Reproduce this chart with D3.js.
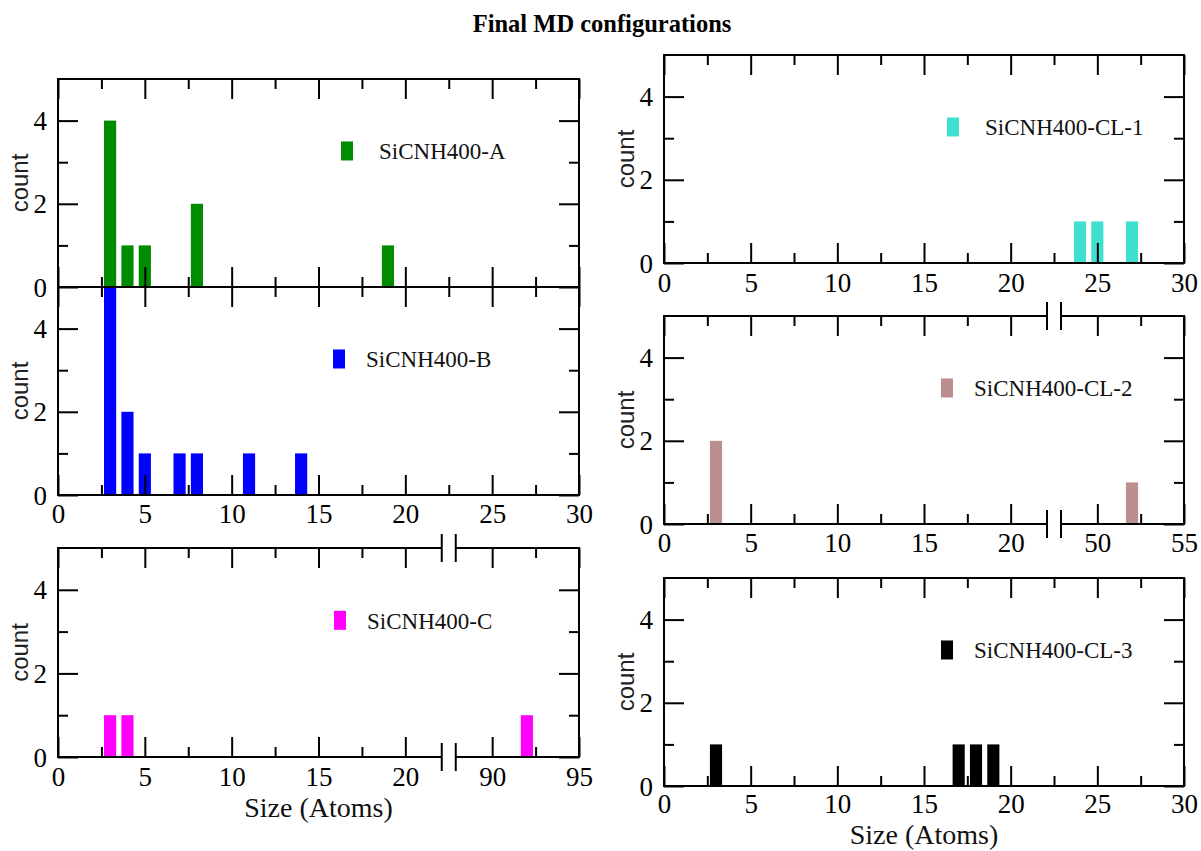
<!DOCTYPE html>
<html>
<head>
<meta charset="utf-8">
<script src="https://cdn.jsdelivr.net/npm/d3@7"></script>
<style>
  html, body { margin: 0; padding: 0; background: #fff; }
  svg { display: block; }
</style>
</head>
<body>
<svg id="chart" width="1201" height="851"></svg>
<script>
// ---------------- DATA ----------------
const titleText = "Final MD configurations";
const xAxisTitle = "Size (Atoms)";
const yAxisTitle = "count";

const sizesA = [3, 4, 5, 8, 19];
const countsA = [4, 1, 1, 2, 1];
const sizesB = [3, 4, 5, 7, 8, 11, 14];
const countsB = [5, 2, 1, 1, 1, 1, 1];
const sizesC = [3, 4, 92];
const countsC = [1, 1, 1];
const sizesCL1 = [24, 25, 27];
const countsCL1 = [1, 1, 1];
const sizesCL2 = [3, 52];
const countsCL2 = [2, 1];
const sizesCL3 = [3, 17, 18, 19];
const countsCL3 = [1, 1, 1, 1];

const seriesNames = ["SiCNH400-A", "SiCNH400-B", "SiCNH400-C", "SiCNH400-CL-1", "SiCNH400-CL-2", "SiCNH400-CL-3"];
const seriesColors = ["#008b00", "#0000ff", "#ff00ff", "#40e0d0", "#bc8f8f", "#000000"];

const xTicksPlain = [0, 5, 10, 15, 20, 25, 30];
const xMinorPlain = [2.5, 7.5, 12.5, 17.5, 22.5, 27.5];
const xTicksC = [0, 5, 10, 15, 20, 90, 95];
const xMinorC = [2.5, 7.5, 12.5, 17.5, 92.5];
const xTicksCL2 = [0, 5, 10, 15, 20, 50, 55];
const xMinorCL2 = [2.5, 7.5, 12.5, 17.5, 52.5];
const yTicks = [0, 2, 4];
const yMinor = [1, 3];
const yDomain = [0, 5];

// ---------------- LAYOUT ----------------
const svg = d3.select("#chart");
const SERIF = "'Liberation Serif', 'Times New Roman', Times, serif";
const SANS = "'Liberation Sans', Arial, Helvetica, sans-serif";
const BAR_HALF = 0.35;
const BREAK_GAP = 7;

const panels = [
  { name: 0, sizes: sizesA, counts: countsA, x0: 58, x1: 579, top: 79, bottom: 287,
    xdom: [0, 30], ticks: xTicksPlain, minor: xMinorPlain, xBreak: null,
    bottomLabels: false, labelDy: 28, legendX: 341, legendTextX: 379, xTitle: false },
  { name: 1, sizes: sizesB, counts: countsB, x0: 58, x1: 579, top: 287, bottom: 495,
    xdom: [0, 30], ticks: xTicksPlain, minor: xMinorPlain, xBreak: null,
    bottomLabels: true, labelDy: 28, legendX: 333, legendTextX: 366, xTitle: false },
  { name: 2, sizes: sizesC, counts: countsC, x0: 58, x1: 579, top: 548, bottom: 757,
    xdom: [0, 95], ticks: xTicksC, minor: xMinorC, xBreak: [22.5, 87.5],
    bottomLabels: true, labelDy: 29, legendX: 334, legendTextX: 367, xTitle: true, xTitleY: 817 },
  { name: 3, sizes: sizesCL1, counts: countsCL1, x0: 664, x1: 1184, top: 55, bottom: 263,
    xdom: [0, 30], ticks: xTicksPlain, minor: xMinorPlain, xBreak: null,
    bottomLabels: true, labelDy: 29, legendX: 947, legendTextX: 985, xTitle: false },
  { name: 4, sizes: sizesCL2, counts: countsCL2, x0: 664, x1: 1184, top: 316, bottom: 524,
    xdom: [0, 55], ticks: xTicksCL2, minor: xMinorCL2, xBreak: [22.5, 47.5],
    bottomLabels: true, labelDy: 28, legendX: 941, legendTextX: 974, xTitle: false },
  { name: 5, sizes: sizesCL3, counts: countsCL3, x0: 664, x1: 1184, top: 578, bottom: 786,
    xdom: [0, 30], ticks: xTicksPlain, minor: xMinorPlain, xBreak: null,
    bottomLabels: true, labelDy: 27, legendX: 941, legendTextX: 974, xTitle: true, xTitleY: 844 }
];

// Title
svg.append("text")
  .attr("x", 602).attr("y", 32)
  .attr("text-anchor", "middle")
  .style("font-family", SERIF).style("font-weight", "bold").style("font-size", "24.5px")
  .text(titleText);

function styleAxis(g) {
  g.attr("font-family", null).attr("font-size", null);
  g.select(".domain").remove();
  g.selectAll(".tick line").attr("stroke", "#000").attr("stroke-width", 2);
  g.selectAll(".tick text")
    .style("font-family", SERIF).style("font-size", "27px").attr("fill", "#000");
}

panels.forEach(p => {
  const g = svg.append("g");
  let x;
  if (p.xBreak) {
    const bpx = p.x0 + (p.x1 - p.x0) * p.xBreak[0] / 30;
    x = d3.scaleLinear()
      .domain([p.xdom[0], p.xBreak[0], p.xBreak[1], p.xdom[1]])
      .range([p.x0, bpx, bpx, p.x1]);
  } else {
    x = d3.scaleLinear().domain(p.xdom).range([p.x0, p.x1]);
  }
  const y = d3.scaleLinear().domain(yDomain).range([p.bottom, p.top]);
  const color = seriesColors[p.name];

  // Bars
  g.append("g").selectAll("rect")
    .data(p.sizes.map((s, i) => ({ s, c: p.counts[i] })))
    .join("rect")
    .attr("x", d => x(d.s - BAR_HALF))
    .attr("width", d => x(d.s + BAR_HALF) - x(d.s - BAR_HALF))
    .attr("y", d => y(d.c))
    .attr("height", d => y(0) - y(d.c))
    .attr("fill", color);

  // Bottom axis (ticks inward)
  const bMaj = g.append("g").attr("transform", `translate(0,${p.bottom})`)
    .call(d3.axisBottom(x).tickValues(p.ticks).tickSize(-20).tickPadding(0)
      .tickFormat(p.bottomLabels ? d3.format("d") : () => ""));
  styleAxis(bMaj);
  bMaj.selectAll(".tick text").attr("y", p.labelDy).attr("dy", 0);
  const bMin = g.append("g").attr("transform", `translate(0,${p.bottom})`)
    .call(d3.axisBottom(x).tickValues(p.minor).tickSize(-10).tickFormat(() => ""));
  styleAxis(bMin);

  // Top axis (ticks inward)
  const tMaj = g.append("g").attr("transform", `translate(0,${p.top})`)
    .call(d3.axisTop(x).tickValues(p.ticks).tickSize(-20).tickFormat(() => ""));
  styleAxis(tMaj);
  const tMin = g.append("g").attr("transform", `translate(0,${p.top})`)
    .call(d3.axisTop(x).tickValues(p.minor).tickSize(-10).tickFormat(() => ""));
  styleAxis(tMin);

  // Left axis
  const lMaj = g.append("g").attr("transform", `translate(${p.x0},0)`)
    .call(d3.axisLeft(y).tickValues(yTicks).tickSize(-20).tickPadding(0).tickFormat(d3.format("d")));
  styleAxis(lMaj);
  lMaj.selectAll(".tick text").attr("x", -11).attr("dy", "0.34em");
  const lMin = g.append("g").attr("transform", `translate(${p.x0},0)`)
    .call(d3.axisLeft(y).tickValues(yMinor).tickSize(-10).tickFormat(() => ""));
  styleAxis(lMin);

  // Right axis
  const rMaj = g.append("g").attr("transform", `translate(${p.x1},0)`)
    .call(d3.axisRight(y).tickValues(yTicks).tickSize(-20).tickFormat(() => ""));
  styleAxis(rMaj);
  const rMin = g.append("g").attr("transform", `translate(${p.x1},0)`)
    .call(d3.axisRight(y).tickValues(yMinor).tickSize(-10).tickFormat(() => ""));
  styleAxis(rMin);

  // Frame lines
  const frame = g.append("g").attr("stroke", "#000").attr("stroke-width", 2).attr("fill", "none");
  frame.append("line").attr("x1", p.x0).attr("x2", p.x0).attr("y1", p.top - 1).attr("y2", p.bottom + 1);
  frame.append("line").attr("x1", p.x1).attr("x2", p.x1).attr("y1", p.top - 1).attr("y2", p.bottom + 1);
  [p.top, p.bottom].forEach(yy => {
    if (p.xBreak) {
      const bx = x(p.xBreak[0]);
      frame.append("line").attr("x1", p.x0).attr("x2", bx - BREAK_GAP).attr("y1", yy).attr("y2", yy);
      frame.append("line").attr("x1", bx + BREAK_GAP).attr("x2", p.x1).attr("y1", yy).attr("y2", yy);
      frame.append("line").attr("x1", bx - BREAK_GAP).attr("x2", bx - BREAK_GAP).attr("y1", yy - 14).attr("y2", yy + 14);
      frame.append("line").attr("x1", bx + BREAK_GAP).attr("x2", bx + BREAK_GAP).attr("y1", yy - 14).attr("y2", yy + 14);
    } else {
      frame.append("line").attr("x1", p.x0 - 1).attr("x2", p.x1 + 1).attr("y1", yy).attr("y2", yy);
    }
  });

  // y-axis title
  const cy = (p.top + p.bottom) / 2;
  svg.append("text")
    .attr("transform", `translate(${p.x0 - 30},${cy}) rotate(-90)`)
    .attr("text-anchor", "middle")
    .style("font-family", SANS).style("font-size", "24px").attr("fill", "#222")
    .text(yAxisTitle);

  // Legend
  const ly = y(3.27);
  g.append("rect")
    .attr("x", p.legendX).attr("y", ly - 9.5)
    .attr("width", 12).attr("height", 19)
    .attr("fill", color);
  g.append("text")
    .attr("x", p.legendTextX).attr("y", ly + 8.5)
    .style("font-family", SERIF).style("font-size", "23px").attr("fill", "#111")
    .text(seriesNames[p.name]);

  // x-axis title
  if (p.xTitle) {
    svg.append("text")
      .attr("x", (p.x0 + p.x1) / 2).attr("y", p.xTitleY)
      .attr("text-anchor", "middle")
      .style("font-family", SERIF).style("font-size", "28px").attr("fill", "#111")
      .text(xAxisTitle);
  }
});
</script>
</body>
</html>
